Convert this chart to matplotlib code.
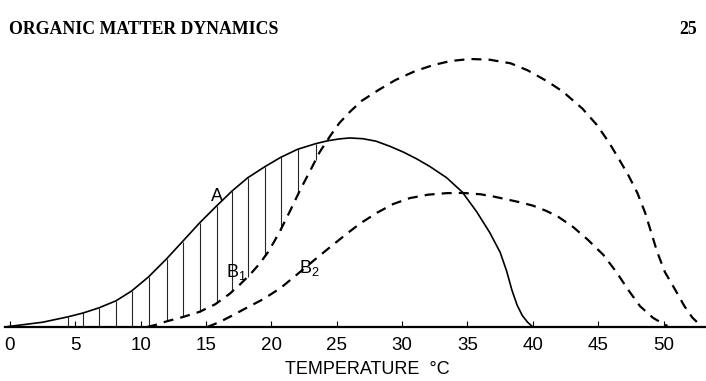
import numpy as np
import matplotlib
matplotlib.use("Agg")
import matplotlib.pyplot as plt

plt.rcParams.update({"font.family": ["Liberation Sans", "DejaVu Sans"],
                     "mathtext.default": "regular"})

# curve A (solid)
temp_a = [-0.4, 1.0, 2.5, 4.4, 5.6, 6.8, 8.1, 9.3, 10.6, 12.0, 13.2, 14.5,
          15.8, 17.0, 18.2, 19.5, 20.7, 22.0, 23.4, 24.3, 25.2, 26.0, 27.0,
          28.0, 29.1, 30.1, 31.1, 32.1, 33.4, 34.6, 35.7, 36.7, 37.5, 38.0,
          38.4, 38.8, 39.2, 39.6, 40.0]
rate_a = [0.0, 0.012, 0.025, 0.053, 0.074, 0.101, 0.138, 0.190, 0.265, 0.362,
          0.452, 0.550, 0.640, 0.720, 0.790, 0.848, 0.897, 0.940, 0.970,
          0.985, 0.995, 1.000, 0.996, 0.983, 0.955, 0.925, 0.890, 0.850,
          0.790, 0.714, 0.610, 0.500, 0.395, 0.295, 0.195, 0.115, 0.060,
          0.025, 0.0]

# curve B1 (dashed, large hump)
temp_b1 = [10.5, 11.2, 12.0, 13.2, 14.5, 15.7, 16.8, 17.6, 18.4, 19.1, 19.7,
           20.2, 20.7, 21.4, 22.2, 23.0, 23.7, 24.5, 25.2, 26.0, 26.9, 28.2,
           29.5, 31.0, 32.4, 33.7, 35.2, 36.7, 38.3, 39.6, 41.1, 42.3, 43.8,
           44.9, 45.8, 46.5, 47.3, 48.0, 48.6, 49.0, 49.5, 50.1, 50.9, 51.6,
           52.2, 52.8]
rate_b1 = [0.0, 0.012, 0.030, 0.052, 0.080, 0.120, 0.175, 0.225, 0.280,
           0.335, 0.392, 0.450, 0.513, 0.610, 0.725, 0.831, 0.926, 1.011,
           1.079, 1.138, 1.196, 1.254, 1.307, 1.354, 1.386, 1.407, 1.418,
           1.414, 1.395, 1.358, 1.300, 1.245, 1.155, 1.069, 0.979, 0.899,
           0.804, 0.709, 0.603, 0.513, 0.400, 0.291, 0.196, 0.110, 0.050,
           0.010]

# curve B2 (dashed, lower hump)
temp_b2 = [15.1, 16.0, 16.8, 18.1, 19.4, 20.7, 22.0, 23.3, 24.5, 25.8, 26.8,
           28.1, 29.3, 30.6, 32.0, 33.4, 34.7, 36.0, 37.0, 38.0, 39.0, 40.0,
           41.0, 41.9, 43.1, 44.2, 45.4, 46.4, 47.3, 48.2, 49.2, 49.9, 50.3]
rate_b2 = [0.0, 0.025, 0.053, 0.101, 0.148, 0.206, 0.280, 0.355, 0.423,
           0.495, 0.548, 0.605, 0.650, 0.682, 0.700, 0.708, 0.709, 0.702,
           0.690, 0.675, 0.660, 0.642, 0.615, 0.585, 0.528, 0.462, 0.381,
           0.290, 0.196, 0.110, 0.048, 0.020, 0.005]

# vertical hatching between A and B1
hatch_temps = [4.4, 5.6, 6.8, 8.1, 9.3, 10.6, 12.0, 13.2, 14.5, 15.8, 17.0,
               18.2, 19.5, 20.7, 22.0, 23.4]

ticks = [0, 5, 10, 15, 20, 25, 30, 35, 40, 45, 50]

fig = plt.figure(figsize=(7.06, 3.81), dpi=100)
ax = fig.add_axes([0, 0, 1, 1])
ax.set_xlim(-0.765, 53.25)
ax.set_ylim(-0.286, 1.730)

for s in ["top", "right", "left"]:
    ax.spines[s].set_visible(False)
ax.spines["bottom"].set_position(("data", 0))
ax.spines["bottom"].set_bounds(-0.4, 53.2)
ax.spines["bottom"].set_linewidth(1.6)
ax.set_yticks([])
ax.set_xticks(ticks)
ax.tick_params(axis="x", direction="in", length=4, width=0.8, pad=7,
               labelsize=13.5)
ax.patch.set_visible(False)

hb_top = np.interp(hatch_temps, temp_a, rate_a)
hb_bot = np.interp(hatch_temps, temp_b1, rate_b1, left=0.0)
ax.vlines(hatch_temps, hb_bot, hb_top, color="0.15", lw=0.8)

ax.plot(temp_a, rate_a, color="black", lw=1.2, solid_joinstyle="round")
ax.plot(temp_b1, rate_b1, color="black", lw=1.6, dashes=(4.5, 3.2),
        dash_joinstyle="round")
ax.plot(temp_b2, rate_b2, color="black", lw=1.6, dashes=(4.5, 3.2),
        dash_joinstyle="round")

ax.text(15.8, 0.69, "A", fontsize=13, ha="center", va="center")
ax.text(17.3, 0.29, "B$_1$", fontsize=13, ha="center", va="center")
ax.text(22.9, 0.31, "B$_2$", fontsize=13, ha="center", va="center")

fig.text(367 / 706, 1 - 370 / 381, "TEMPERATURE  \u00b0C", fontsize=13,
         ha="center", va="center")
fig.text(9 / 706, 1 - 30 / 381, "ORGANIC MATTER DYNAMICS",
         family="Liberation Serif", weight="bold", fontsize=12.8,
         ha="left", va="center")
fig.text(697 / 706, 1 - 30 / 381, "25", family="Liberation Serif",
         weight="bold", fontsize=12.8, ha="right", va="center")

fig.savefig("out.png", dpi=100, facecolor="white")
